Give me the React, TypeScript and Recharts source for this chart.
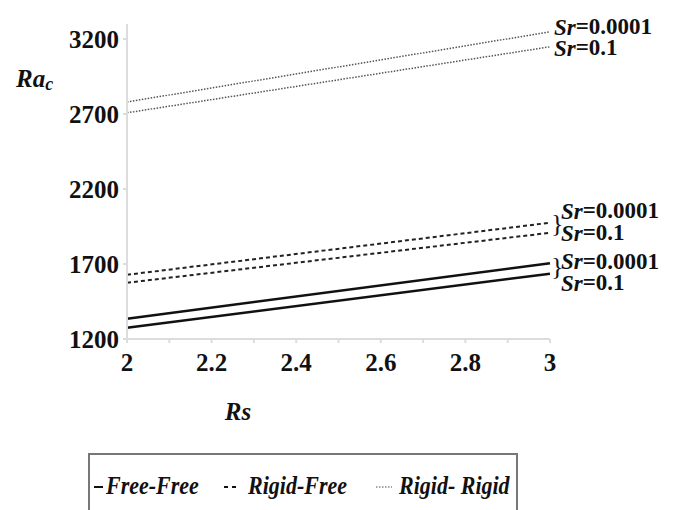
import React from "react";
import { LineChart, Line, XAxis, YAxis, Label } from "recharts";

// Rs values (x) and critical Rayleigh numbers per boundary case / Sr
const rs = [2, 3];
const freeFreeSrSmall = [1335, 1705];
const freeFreeSrBig = [1275, 1635];
const rigidFreeSrSmall = [1628, 1975];
const rigidFreeSrBig = [1575, 1908];
const rigidRigidSrSmall = [2780, 3248];
const rigidRigidSrBig = [2708, 3148];

const xTicks = [2, 2.1, 2.2, 2.3, 2.4, 2.5, 2.6, 2.7, 2.8, 2.9, 3];
const xTickLabels = ["2", "", "2.2", "", "2.4", "", "2.6", "", "2.8", "", "3"];
const yTicks = [1200, 1700, 2200, 2700, 3200];

const legendNames = ["Free-Free", "Rigid-Free", "Rigid- Rigid"];

const data = rs.map((x, i) => ({
  rs: x,
  ffA: freeFreeSrSmall[i],
  ffB: freeFreeSrBig[i],
  rfA: rigidFreeSrSmall[i],
  rfB: rigidFreeSrBig[i],
  rrA: rigidRigidSrSmall[i],
  rrB: rigidRigidSrBig[i],
}));

const FONT = "Liberation Serif, DejaVu Serif, serif";

const endLabel =
  (sr: string, dx: number, dy: number, brace?: number) =>
  (props: any) => {
    const { x, y, index } = props;
    if (index !== data.length - 1) return <g />;
    return (
      <g>
        {brace !== undefined && (
          <text
            x={x + 1}
            y={y + brace}
            fontFamily={FONT}
            fontSize={26}
            fill="#111"
            dominantBaseline="central"
          >
            {"}"}
          </text>
        )}
        <text
          x={x + dx}
          y={y + dy}
          fontFamily={FONT}
          fontWeight="bold"
          fontSize={23}
          fill="#111"
          dominantBaseline="central"
        >
          <tspan fontStyle="italic">Sr</tspan>={sr}
        </text>
      </g>
    );
  };

// legend swatches: [left of swatch, swatch width, left of text]
const legendPos = [
  [4, 9, 16],
  [134, 14, 158],
  [286, 16, 309],
];
const legendDash = ["", "4 4", "1.5 1.5"];
const legendColor = ["#111", "#111", "#888"];

const LegendBox = () => (
  <div
    style={{
      position: "absolute",
      left: 88,
      top: 453,
      width: 430,
      height: 70,
      borderTop: "2px solid #777",
      borderLeft: "2px solid #777",
      borderRight: "2px solid #777",
      boxSizing: "border-box",
      fontFamily: FONT,
      fontWeight: "bold",
      fontStyle: "italic",
      fontSize: 22,
      color: "#111",
      whiteSpace: "nowrap",
    }}
  >
    {legendNames.map((name, i) => (
      <React.Fragment key={name}>
        <svg
          width={legendPos[i][1]}
          height={10}
          style={{ position: "absolute", left: legendPos[i][0], top: 27 }}
        >
          <line
            x1={0}
            y1={5}
            x2={legendPos[i][1]}
            y2={5}
            stroke={legendColor[i]}
            strokeWidth={i === 2 ? 1.5 : 2}
            strokeDasharray={legendDash[i] || undefined}
          />
        </svg>
        <span
          style={{
            position: "absolute",
            left: legendPos[i][2],
            top: 18,
            lineHeight: "26px",
            display: "inline-block",
            transform: "scaleY(1.15)",
          }}
        >
          {name}
        </span>
      </React.Fragment>
    ))}
  </div>
);

export default function App() {
  return (
    <div style={{ position: "absolute", left: 0, top: 0, width: 679, height: 510, overflow: "hidden", background: "#fff" }}>
      <LineChart
        width={679}
        height={510}
        data={data}
        margin={{ top: 24, right: 129, bottom: 141, left: 67 }}
      >
        <XAxis
          dataKey="rs"
          type="number"
          domain={[2, 3]}
          ticks={xTicks}
          tickFormatter={(v: number) => xTickLabels[xTicks.indexOf(v)] ?? ""}
          stroke="#dcdcdc"
          strokeWidth={2}
          tickSize={4}
          height={30}
          tick={{ fill: "#111", fontFamily: FONT, fontWeight: "bold", fontSize: 25, dy: 8 }}
        >
          <Label
            content={() => (
              <text
                x={238}
                y={411}
                fontFamily={FONT}
                fontWeight="bold"
                fontStyle="italic"
                fontSize={25}
                fill="#111"
                textAnchor="middle"
                dominantBaseline="central"
              >
                Rs
              </text>
            )}
          />
        </XAxis>
        <YAxis
          type="number"
          domain={[1200, 3300]}
          ticks={yTicks}
          stroke="#dcdcdc"
          strokeWidth={2}
          tickSize={4}
          width={60}
          tick={{ fill: "#111", fontFamily: FONT, fontWeight: "bold", fontSize: 25, dx: -2 }}
        >
          <Label
            content={() => (
              <text
                x={16}
                y={78}
                fontFamily={FONT}
                fontWeight="bold"
                fontStyle="italic"
                fontSize={25}
                fill="#111"
                dominantBaseline="central"
              >
                Ra
                <tspan fontSize={18} dy={6}>
                  c
                </tspan>
              </text>
            )}
          />
        </YAxis>
        <Line
          dataKey="rrA"
          stroke="#555"
          strokeWidth={1.5}
          strokeDasharray="1.5 1.5"
          dot={false}
          isAnimationActive={false}
          label={endLabel("0.0001", 4, -5)}
        />
        <Line
          dataKey="rrB"
          stroke="#555"
          strokeWidth={1.5}
          strokeDasharray="1.5 1.5"
          dot={false}
          isAnimationActive={false}
          label={endLabel("0.1", 4, 1)}
        />
        <Line
          dataKey="rfA"
          stroke="#222"
          strokeWidth={2}
          strokeDasharray="4 3"
          dot={false}
          isAnimationActive={false}
          label={endLabel("0.0001", 11, -12, 1)}
        />
        <Line
          dataKey="rfB"
          stroke="#222"
          strokeWidth={2}
          strokeDasharray="4 3"
          dot={false}
          isAnimationActive={false}
          label={endLabel("0.1", 11, 0)}
        />
        <Line
          dataKey="ffA"
          stroke="#111"
          strokeWidth={2.5}
          dot={false}
          isAnimationActive={false}
          label={endLabel("0.0001", 11, -2, 3)}
        />
        <Line
          dataKey="ffB"
          stroke="#111"
          strokeWidth={2.5}
          dot={false}
          isAnimationActive={false}
          label={endLabel("0.1", 11, 9)}
        />
      </LineChart>
      <LegendBox />
    </div>
  );
}
